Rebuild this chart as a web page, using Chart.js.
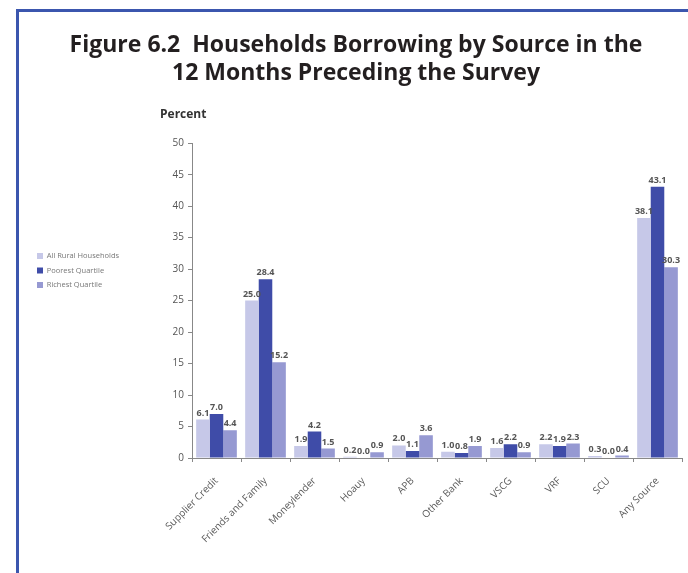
<!DOCTYPE html>
<html>
<head>
<meta charset="utf-8">
<title>Figure 6.2</title>
<script src="https://cdn.jsdelivr.net/npm/chart.js@4.4.1/dist/chart.umd.min.js"></script>
<style>
  body { margin: 0; background: #fff; }
  #wrap { position: relative; width: 688px; height: 573px; overflow: hidden; }
  #frame { position: absolute; left: 16px; top: 9px; width: 800px; height: 700px;
    border-left: 3px solid #3b56ae; border-top: 3px solid #3b56ae; }
  #borrowChart { position: absolute; left: 0; top: 0; }
</style>
</head>
<body>
<div id="wrap">
  <div id="frame"></div>
  <canvas id="borrowChart" width="688" height="573"></canvas>
</div>
<script>
    const sources = ['Supplier Credit', 'Friends and Family', 'Moneylender', 'Hoauy', 'APB',
        'Other Bank', 'VSCG', 'VRF', 'SCU', 'Any Source'];
    const allRural = [6.1, 25.0, 1.9, 0.2, 2.0, 1.0, 1.6, 2.2, 0.3, 38.1];
    const poorest = [7.0, 28.4, 4.2, 0.0, 1.1, 0.8, 2.2, 1.9, 0.0, 43.1];
    const richest = [4.4, 15.2, 1.5, 0.9, 3.6, 1.9, 0.9, 2.3, 0.4, 30.3];
    const yTicks = [0, 5, 10, 15, 20, 25, 30, 35, 40, 45, 50];

    const FONT = '"Open Sans", "DejaVu Sans", sans-serif';
    const PLOT_LEFT = 192; // y축 위치
    const LEGEND_SHIFT = 16; // 범례를 위로 올림

    // 막대 위 값 표시
    const valueLabels = {
        id: 'valueLabels',
        afterDatasetsDraw(chart) {
            const c = chart.ctx;
            c.save();
            c.font = 'bold 9px ' + FONT;
            c.fillStyle = '#555';
            c.textAlign = 'center';
            c.textBaseline = 'bottom';
            chart.data.datasets.forEach((ds, i) => {
                chart.getDatasetMeta(i).data.forEach((bar, j) => {
                    c.fillText(ds.data[j].toFixed(1), bar.x, bar.y - 2);
                });
            });
            c.restore();
        }
    };

    // "Percent" 축 이름 + 범례 위치 조정
    const unitLabel = {
        id: 'unitLabel',
        afterLayout(chart) {
            if (chart.legend) {
                chart.legend.top -= LEGEND_SHIFT;
                chart.legend.bottom -= LEGEND_SHIFT;
            }
        },
        afterDraw(chart) {
            const c = chart.ctx;
            const a = chart.chartArea;
            c.save();
            c.font = 'bold 12px ' + FONT;
            c.fillStyle = '#333';
            c.textAlign = 'left';
            c.textBaseline = 'middle';
            c.fillText('Percent', a.left - 32, a.top - 29);
            c.restore();
        }
    };

    const ctx = document.getElementById('borrowChart').getContext('2d');
    const borrowChart = new Chart(ctx, {
        type: 'bar',
        data: {
            labels: sources,
            datasets: [
                { label: 'All Rural Households', data: allRural, backgroundColor: '#c6c8e8' },
                { label: 'Poorest Quartile', data: poorest, backgroundColor: '#3f4ca8' },
                { label: 'Richest Quartile', data: richest, backgroundColor: '#9699d2' },
            ],
        },
        options: {
            responsive: false,
            animation: false,
            layout: { padding: { left: 30, right: 6, top: 0, bottom: 0 } },
            datasets: {
                bar: { categoryPercentage: 0.83, barPercentage: 1.0 }
            },
            plugins: {
                title: {
                    display: true,
                    text: ['Figure 6.2  Households Borrowing by Source in the',
                        '12 Months Preceding the Survey'],
                    color: '#231f20',
                    font: { family: FONT, size: 23, weight: 'bold', lineHeight: 1.2 },
                    padding: { top: 32, bottom: 56 },
                },
                legend: {
                    position: 'left',
                    labels: {
                        boxWidth: 6,
                        boxHeight: 6,
                        padding: 7,
                        color: '#777',
                        font: { family: FONT, size: 7.5 },
                    },
                },
                tooltip: { enabled: false },
            },
            scales: {
                x: {
                    offset: true,
                    grid: { offset: true, drawOnChartArea: false, tickLength: 4, color: '#888' },
                    border: { color: '#888' },
                    ticks: {
                        minRotation: 45,
                        maxRotation: 45,
                        color: '#5a5a5a',
                        font: { family: FONT, size: 10 },
                        padding: 13,
                    },
                    afterFit(scale) { scale.height = 115; },
                },
                y: {
                    min: 0,
                    max: 50,
                    afterBuildTicks(scale) { scale.ticks = yTicks.map(v => ({ value: v })); },
                    grid: { drawOnChartArea: false, tickLength: 4, color: '#888' },
                    border: { color: '#888' },
                    ticks: {
                        color: '#555',
                        font: { family: FONT, size: 10 },
                        padding: 4,
                    },
                    afterFit(scale) {
                        const lg = scale.chart.legend;
                        const used = 30 + (lg ? lg.width : 110);
                        scale.width = Math.max(PLOT_LEFT - used, 20);
                    },
                },
            },
        },
        plugins: [valueLabels, unitLabel],
    });
</script>
</body>
</html>
